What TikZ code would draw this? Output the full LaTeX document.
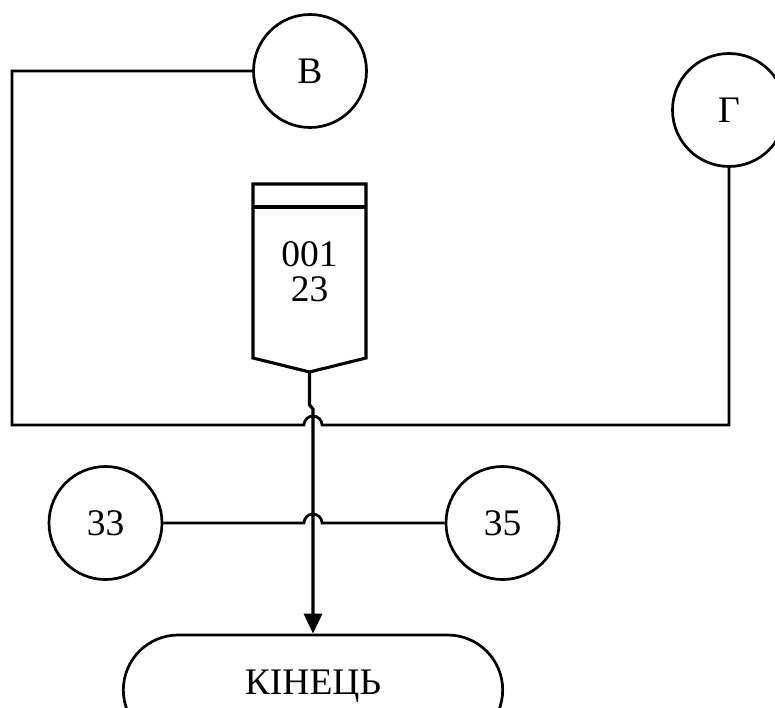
\documentclass[tikz,border=0pt]{standalone}
\usepackage{fontspec}
\setmainfont{Liberation Serif}
\usetikzlibrary{arrows.meta,shapes.misc}
\begin{document}
\begin{tikzpicture}[x=1pt,y=-1pt,
  lbl/.style={font=\fontsize{37.5}{35}\selectfont},
  conn/.style={circle,draw,line width=2.7pt,minimum size=113pt,inner sep=0pt,lbl},
  wire/.style={line width=2.7pt},
  flow/.style={line width=3.1pt},
  term/.style={draw,rounded rectangle,line width=2.7pt,minimum width=386pt,
    minimum height=110pt,text height=26pt,text depth=18pt,lbl}]
\useasboundingbox (0,0) rectangle (775,708);
\clip (0,0) rectangle (775,708);

% connector circles
\node[conn] (v) at (310,71) {В};
\node[conn] (g) at (729,110) {Г};
\node[conn] (c33) at (105.5,523) {33};
\node[conn] (c35) at (502.5,523) {35};

% terminator
\node[term] (fin) at (313,690) {КІНЕЦЬ};

% process block with header strip and pointed bottom
\draw[flow,line join=miter] (253,184) -- (366,184) -- (366,358) -- (309.5,372)
  -- (253,358) -- cycle;
\draw[flow] (253,207) -- (366,207);
\node[lbl,align=center] (blk) at (309.5,272) {001\\23};
\coordinate (bout) at (309.5,372);

% loop from В round to Г, hopping over the flow line
\draw[wire] (v.west) -- (12,71) -- (12,425) -- (304,425)
  arc[start angle=180,end angle=0,radius=9pt] -- (729,425) -- (g.south);

% link between 33 and 35, hopping over the flow line
\draw[wire] (c33.east) -- (304,523)
  arc[start angle=180,end angle=0,radius=9pt] -- (c35.west);

% main flow from the block down to the terminator
\draw[flow,-{Triangle[length=20pt,width=18pt]}] (bout) -- (309.5,405)
  -- (313,409) -- (fin.north);
\end{tikzpicture}
\end{document}
